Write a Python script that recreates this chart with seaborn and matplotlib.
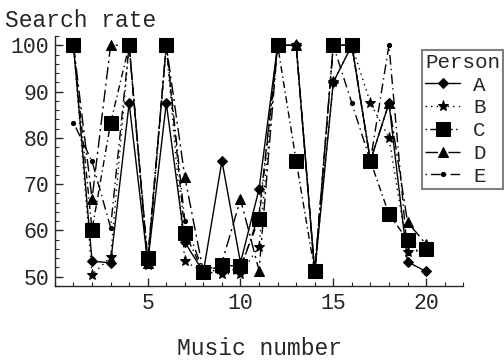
import numpy as np
import pandas as pd
import seaborn as sns
import matplotlib.pyplot as plt
from matplotlib.ticker import MultipleLocator

# valores
musica = list(range(1, 21))
pessoas = ["A", "B", "C", "D", "E"]
taxa_A = [100, 53.3, 53, 87.5, 53, 87.5, 57.4, 51, 75, 53, 68.9, 100, 100, 51, 92, 100, 75, 87.5, 53.2, 51.1]
taxa_B = [100, 50.4, 54.2, 100, 52.5, 100, 53.3, 51, 50.6, 50.6, 56.5, 100, 100, 51, 92, 100, 87.5, 80, 55.4, 56]
taxa_C = [100, 60.1, 83.2, 100, 54, 100, 59.5, 50.9, 52.5, 52.2, 62.4, 100, 75, 51.1, 100, 100, 75, 63.5, 57.9, 55.9]
taxa_D = [100, 66.8, 100, 100, 53, 100, 71.5, 51, 53, 66.7, 51.3, 100, 100, 51, 100, 100, 75, 87.5, 61.8, 57]
taxa_E = [83.3, 74.9, 60.6, 100, 53, 100, 62, 51, 51.5, 51.5, 63.5, 100, 100, 51, 100, 87.5, 75, 100, 55, 56]

df = pd.DataFrame({
    "Music": musica * 5,
    "Rate": taxa_A + taxa_B + taxa_C + taxa_D + taxa_E,
    "Person": np.repeat(pessoas, len(musica)),
})

# estilo de cada pessoa: marcador, tamanho, tracejado
estilos = {
    "A": ("D", 5, (None, None)),
    "B": ("*", 8, (1, 3)),
    "C": ("s", 9.5, (1, 2.5, 5, 2.5)),
    "D": ("^", 6.5, (9, 3, 1.5, 3)),
    "E": ("o", 3, (1, 3, 7, 3)),
}

sns.set_style("ticks")
plt.rcParams['font.family'] = ['Liberation Mono', 'DejaVu Sans Mono']

fig = plt.figure(figsize=(5.04, 3.6), dpi=100)
ax = fig.add_axes([0.109, 0.206, 0.81, 0.694])

for p in pessoas:
    marcador, tam, traco = estilos[p]
    sub = df[df["Person"] == p]
    sns.lineplot(data=sub, x="Music", y="Rate", ax=ax, color="black",
                 marker=marcador, markersize=tam, markeredgecolor="black",
                 linewidth=1.0, label=p, legend=False)
    linha = ax.lines[-1]
    if traco[0] is not None:
        linha.set_dashes(traco)

ax.set_xlim(0, 22)
ax.set_ylim(48, 102)
ax.xaxis.set_minor_locator(MultipleLocator(1))
ax.yaxis.set_major_locator(MultipleLocator(10))
ax.yaxis.set_minor_locator(MultipleLocator(2))
ax.set_xticks([5, 10, 15, 20])
ax.tick_params(which="major", direction="in", length=6, width=1, labelsize=15.5, pad=5)
ax.tick_params(axis="y", which="major", pad=4)
ax.tick_params(which="minor", direction="in", length=3, width=0.8)
ax.set_xlabel("")
ax.set_ylabel("")
sns.despine(ax=ax)
for s in ["left", "bottom"]:
    ax.spines[s].set_linewidth(1.0)

fig.text(0.01, 0.975, "Search rate", fontsize=16.5, va="top", ha="left")
fig.text(0.515, 0.033, "Music number", fontsize=16.5, va="center", ha="center")

handles, labels = ax.get_legend_handles_labels()
leg = fig.legend(handles, labels, title="Person", loc="upper left",
                 bbox_to_anchor=(0.837, 0.862), fontsize=15, title_fontsize=15,
                 fancybox=False, framealpha=1, edgecolor="gray",
                 handlelength=1.7, handletextpad=0.6, labelspacing=0.18,
                 borderpad=0.15, borderaxespad=0)
leg.get_frame().set_linewidth(1.5)
leg._legend_box.align = "left"

plt.savefig("out.png", dpi=100)
